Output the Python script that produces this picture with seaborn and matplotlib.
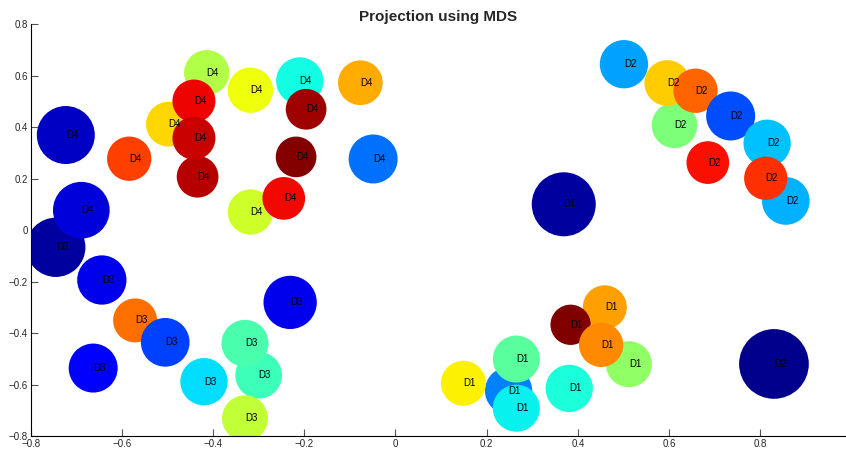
"""
MDS projection plot
===================
Circles sized by weight, coloured by a jet-mapped score, labelled by domain.
"""

import matplotlib
matplotlib.use("Agg")
import matplotlib.pyplot as plt
import numpy as np
import pandas as pd
import seaborn as sns

# ─── Data ────────────────────────────────────────────────────────────────────

labels = (["D1"] * 10) + (["D2"] * 10) + (["D3"] * 10) + (["D4"] * 16)

x_coord = [
    # D1
    0.369, 0.459, 0.384, 0.512, 0.451, 0.248, 0.265, 0.149, 0.265, 0.381,
    # D2
    0.501, 0.612, 0.596, 0.658, 0.735, 0.815, 0.685, 0.856, 0.812, 0.830,
    # D3
    -0.745, -0.644, -0.571, -0.505, -0.663, -0.420, -0.300, -0.330, -0.330, -0.231,
    # D4
    -0.723, -0.584, -0.498, -0.414, -0.442, -0.434, -0.442, -0.318, -0.210,
    -0.196, -0.077, -0.218, -0.049, -0.689, -0.318, -0.245,
]
y_coord = [
    # D1
    0.101, -0.299, -0.367, -0.520, -0.445, -0.623, -0.500, -0.594, -0.691, -0.614,
    # D2
    0.645, 0.408, 0.572, 0.542, 0.444, 0.338, 0.263, 0.114, 0.202, -0.519,
    # D3
    -0.066, -0.193, -0.350, -0.435, -0.535, -0.588, -0.563, -0.439, -0.730, -0.280,
    # D4
    0.370, 0.278, 0.412, 0.612, 0.502, 0.208, 0.358, 0.544, 0.580,
    0.470, 0.573, 0.285, 0.277, 0.078, 0.071, 0.124,
]
# colour score (jet scale, 0..1)
score = [
    # D1
    0.028, 0.740, 1.000, 0.525, 0.762, 0.250, 0.460, 0.655, 0.360, 0.383,
    # D2
    0.282, 0.500, 0.694, 0.802, 0.203, 0.313, 0.893, 0.297, 0.859, 0.014,
    # D3
    0.028, 0.097, 0.790, 0.190, 0.120, 0.342, 0.423, 0.440, 0.583, 0.097,
    # D4
    0.062, 0.842, 0.680, 0.564, 0.905, 0.952, 0.934, 0.640, 0.372,
    0.971, 0.730, 0.993, 0.235, 0.081, 0.600, 0.900,
]
# weight, drawn as circle diameter in pixels
weight = [
    # D1
    64.0, 44.0, 40.3, 46.0, 44.3, 47.3, 47.0, 45.0, 47.0, 47.3,
    # D2
    48.3, 45.7, 45.7, 44.3, 49.0, 47.3, 42.7, 47.7, 43.3, 69.7,
    # D3
    59.3, 49.3, 44.0, 48.7, 49.0, 47.3, 46.7, 47.0, 46.0, 53.3,
    # D4
    58.0, 44.3, 44.7, 45.3, 43.0, 41.7, 43.0, 45.3, 47.3,
    40.7, 44.7, 40.7, 49.0, 56.7, 45.3, 42.7,
]

X_LIM = (-0.8, 0.988)
Y_LIM = (-0.8, 0.8)
DPI = 100


def fmt_tick(v):
    """MATLAB-like tick text with a real minus sign."""
    if abs(v) < 1e-9:
        return "0"
    return "{:g}".format(v).replace("-", "\u2212")


def plot_mds(path="out.png"):
    df = pd.DataFrame({"x": x_coord, "y": y_coord, "score": score,
                       "weight": weight, "label": labels})

    sns.set_style("ticks")
    plt.rcParams["font.family"] = ["Liberation Sans", "DejaVu Sans"]

    fig = plt.figure(figsize=(8.46, 4.54), dpi=DPI)
    ax = fig.add_axes([30.7 / 846, 1 - 436.3 / 454, 1 - 30.7 / 846, (436.3 - 24.3) / 454])

    # diameter in px -> marker area in pt^2
    sizes = (df["weight"].to_numpy() * 72 / DPI) ** 2
    sns.scatterplot(
        data=df, x="x", y="y", hue="score", palette=matplotlib.colormaps["jet"],
        hue_norm=(0, 1), s=sizes, linewidth=0, legend=False, ax=ax, zorder=2,
    )

    for _, row in df.iterrows():
        ax.text(row["x"], row["y"], row["label"], ha="left", va="center",
                fontsize=7, color="black", zorder=3)

    ticks = np.round(np.arange(-0.8, 0.81, 0.2), 1)
    tick_labels = [fmt_tick(v) for v in ticks]
    ax.set_xlim(*X_LIM)
    ax.set_ylim(*Y_LIM)
    ax.set_xticks(ticks)
    ax.set_yticks(ticks)
    ax.set_xticklabels(tick_labels)
    ax.set_yticklabels(tick_labels)
    ax.tick_params(direction="in", length=5, width=0.8, labelsize=7,
                   color="#555555", pad=2)
    ax.set_xlabel("")
    ax.set_ylabel("")
    ax.spines["top"].set_visible(False)
    ax.spines["right"].set_visible(False)
    for side in ("left", "bottom"):
        ax.spines[side].set_linewidth(0.8)
        ax.spines[side].set_color("black")
    ax.set_title("Projection using MDS", fontsize=11, fontweight="bold", pad=2)

    fig.savefig(path, dpi=DPI)
    plt.close(fig)


if __name__ == "__main__":
    plot_mds()
